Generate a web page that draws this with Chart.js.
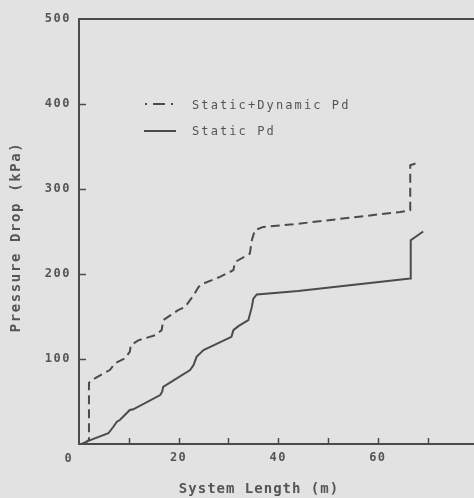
<!DOCTYPE html>
<html><head><meta charset="utf-8">
<script src="https://cdn.jsdelivr.net/npm/chart.js@4/dist/chart.umd.min.js"></script>
<style>html,body{margin:0;padding:0;background:#e2e2e2;overflow:hidden}canvas{display:block}</style>
</head><body>
<canvas id="c" width="474" height="498"></canvas>
<script>
// ---- data ----
const staticLength = [0.5, 2.0, 5.9, 6.9, 7.6, 8.2, 10.2, 10.9, 16.3, 16.7, 16.9, 22.3, 23.0, 23.6, 25.0, 30.6, 31.0, 32.0, 34.0, 34.7, 35.0, 35.7, 44.0, 66.5, 66.6, 69.1];
const staticPd     = [0, 4, 12.6, 20.3, 26.2, 28.2, 40, 40.8, 57.6, 61.5, 67.3, 87, 92.8, 102.6, 110.5, 126, 134, 138.7, 145.7, 161.3, 171, 176, 180, 194.7, 239.7, 250];
const dynLength = [1.0, 2.0, 2.0, 2.5, 4.9, 6.2, 7.2, 9.2, 10.2, 10.4, 11.9, 15.3, 16.6, 16.9, 19.9, 21.3, 23.0, 24.0, 25.0, 28.3, 31.0, 31.3, 34.3, 34.7, 35.3, 37.0, 43.0, 64.5, 66.5, 66.5, 67.8];
const dynPd     = [0, 5, 72, 75, 83, 87, 94.8, 100.6, 108.5, 116.3, 122, 128, 134, 145.7, 157.5, 161.3, 175, 184.8, 188.8, 196.6, 204.5, 214, 224, 239.7, 251.5, 255.4, 258.5, 273, 275, 328, 330.5];
const seriesNames = ['Static+Dynamic Pd', 'Static Pd'];
const xTitle = 'System Length (m)';
const yTitle = 'Pressure Drop (kPa)';
const xLabeledTicks = [20, 40, 60];
const yLabeledTicks = [100, 200, 300, 400, 500];
const xMinorTicks = [10, 20, 30, 40, 50, 60, 70];
const yMinorTicks = [100, 200, 300, 400];
const originLabel = '0';

const INK = '#4b4b4b';
const TXT = '#555555';
const BG = '#e2e2e2';
const MONO = "'DejaVu Sans Mono', 'Liberation Mono', monospace";

const decor = {
  id: 'decor',
  beforeDraw(chart) {
    const ctx = chart.ctx;
    ctx.save();
    ctx.fillStyle = BG;
    ctx.fillRect(0, 0, chart.width, chart.height);
    ctx.restore();
    ctx.letterSpacing = '1.5px';
  },
  afterDraw(chart) {
    const { ctx, chartArea: a, scales: { x, y } } = chart;
    ctx.save();
    ctx.strokeStyle = INK;
    ctx.lineWidth = 2;
    ctx.beginPath();
    ctx.moveTo(a.left - 1, a.top);
    ctx.lineTo(a.right, a.top);
    ctx.stroke();
    // inward tick marks
    ctx.lineWidth = 1.5;
    ctx.beginPath();
    yMinorTicks.forEach(v => { const py = Math.round(y.getPixelForValue(v)) + 0.5; ctx.moveTo(a.left, py); ctx.lineTo(a.left + 7, py); });
    xMinorTicks.forEach(v => { const px = Math.round(x.getPixelForValue(v)) + 0.5; ctx.moveTo(px, a.bottom); ctx.lineTo(px, a.bottom - 6); });
    ctx.stroke();

    // legend
    ctx.lineWidth = 2;
    const ly1 = 104, ly2 = 131, lx0 = 144, lx1 = 176;
    ctx.beginPath();
    ctx.moveTo(lx0 + 1, ly1); ctx.lineTo(lx0 + 3, ly1);
    ctx.moveTo(lx0 + 9, ly1); ctx.lineTo(lx0 + 21, ly1);
    ctx.moveTo(lx0 + 27, ly1); ctx.lineTo(lx0 + 29, ly1);
    ctx.moveTo(lx0, ly2); ctx.lineTo(lx1, ly2);
    ctx.stroke();

    ctx.fillStyle = TXT;
    ctx.textBaseline = 'alphabetic';
    ctx.textAlign = 'left';
    ctx.letterSpacing = '2.1px';
    ctx.font = '12px ' + MONO;
    ctx.fillText(seriesNames[0], 192, 108.5);
    ctx.fillText(seriesNames[1], 192, 134.5);

    // origin label
    ctx.letterSpacing = '0px';
    ctx.font = 'bold 12px ' + MONO;
    ctx.textAlign = 'center';
    ctx.fillText(originLabel, x.getPixelForValue(0) - 11, y.getPixelForValue(0) + 18);

    // axis titles
    ctx.font = 'bold 14px ' + MONO;
    ctx.letterSpacing = '1px';
    ctx.textAlign = 'center';
    ctx.fillText(xTitle, 259, 493);
    ctx.save();
    ctx.translate(20, 237);
    ctx.rotate(-Math.PI / 2);
    ctx.letterSpacing = '1.6px';
    ctx.fillText(yTitle, 0, 0);
    ctx.restore();
    ctx.restore();
  }
};

new Chart(document.getElementById('c'), {
  type: 'line',
  data: {
    datasets: [
      { label: seriesNames[0], data: dynLength.map((v, i) => ({ x: v, y: dynPd[i] })), borderColor: INK, borderWidth: 2, borderDash: [9, 5], pointRadius: 0, tension: 0, fill: false },
      { label: seriesNames[1], data: staticLength.map((v, i) => ({ x: v, y: staticPd[i] })), borderColor: INK, borderWidth: 2, pointRadius: 0, tension: 0, fill: false }
    ]
  },
  options: {
    responsive: false,
    animation: false,
    devicePixelRatio: 1,
    layout: { padding: { top: 19, left: 0, right: 0, bottom: 0 } },
    plugins: { legend: { display: false }, tooltip: { enabled: false } },
    scales: {
      x: {
        type: 'linear', min: 0, max: 79.3,
        grid: { display: false, drawTicks: false },
        border: { color: INK, width: 2 },
        ticks: { stepSize: 10, includeBounds: false, autoSkip: false, maxRotation: 0, padding: 7, color: TXT,
          font: { family: MONO, size: 12, weight: 'bold' },
          callback: v => xLabeledTicks.includes(v) ? String(v) : '' },
        afterFit(s) { s.height = 54; }
      },
      y: {
        type: 'linear', min: 0, max: 500,
        grid: { display: false, drawTicks: false },
        border: { color: INK, width: 2 },
        ticks: { stepSize: 100, includeBounds: false, padding: 8, color: TXT,
          font: { family: MONO, size: 12, weight: 'bold' },
          callback: v => yLabeledTicks.includes(v) ? String(v) : '' },
        afterFit(s) { s.width = 79; }
      }
    }
  },
  plugins: [decor]
});
</script>
</body></html>
